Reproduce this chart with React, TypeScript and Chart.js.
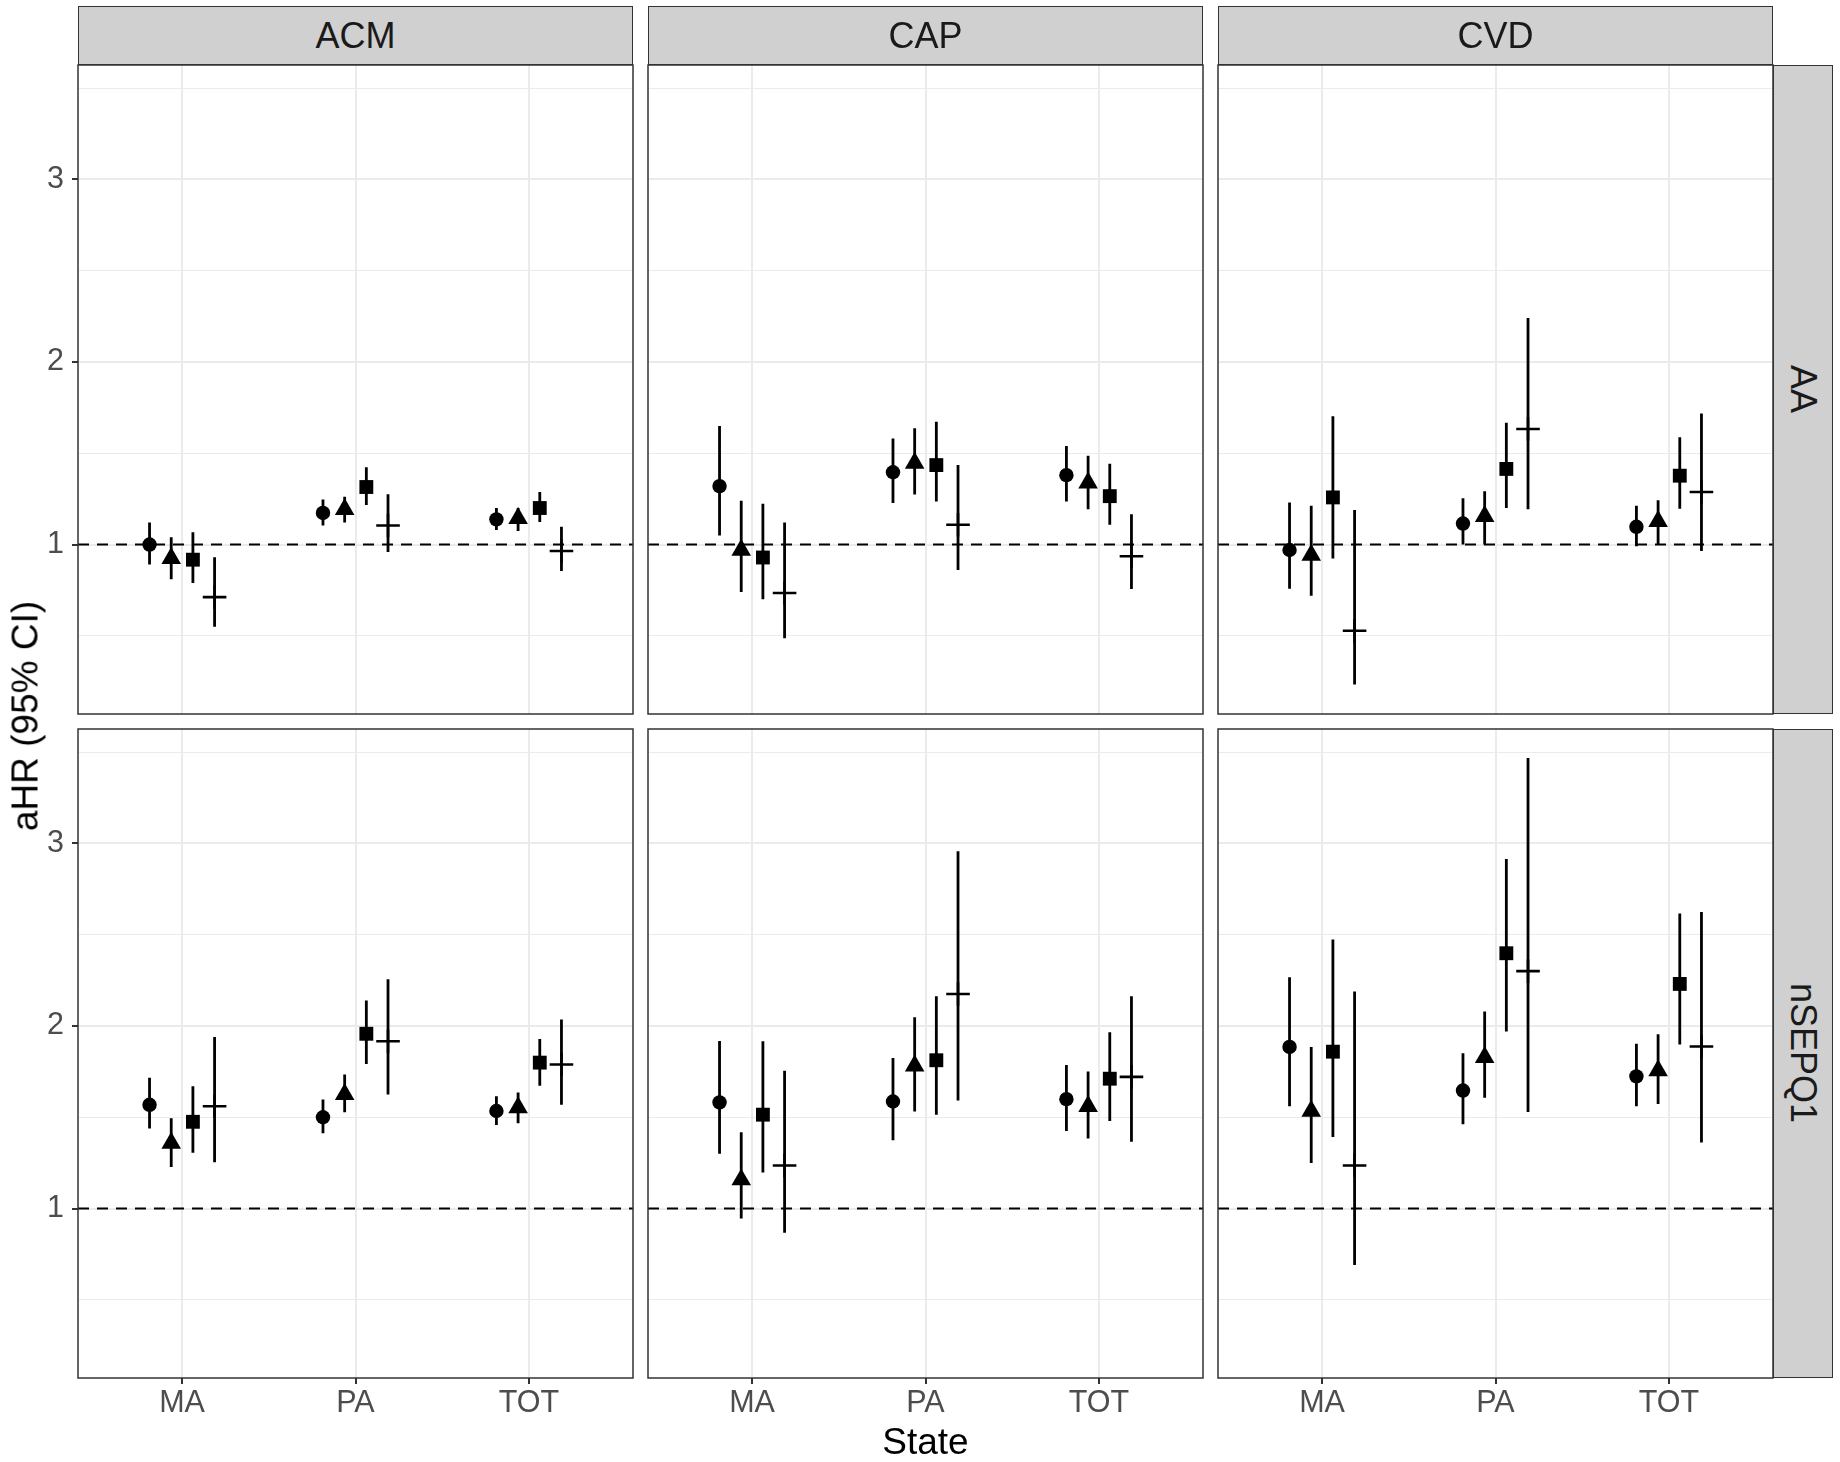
import React, { useEffect, useRef } from 'react';
import { Chart, registerables } from 'chart.js';

Chart.register(...registerables);

// ---------------- data ----------------
const states = ['MA', 'PA', 'TOT'];
const outcomes = ['ACM', 'CAP', 'CVD'];
const exposures = ['AA', 'nSEPQ1'];
const seriesNames = ['Model 1', 'Model 2', 'Model 3', 'Model 4'];
const yMajorTicks = [1, 2, 3];
const yMinorTicks = [0.5, 1.5, 2.5, 3.5];
const referenceHR = 1;
const xAxisTitle = 'State';
const yAxisTitle = 'aHR (95% CI)';

// rows: MA, PA, TOT ; columns: series 1..4 (circle, triangle, square, plus)
const AA_ACM_est = [[1.0, 0.924, 0.917, 0.712], [1.173, 1.193, 1.315, 1.104], [1.138, 1.143, 1.2, 0.965]];
const AA_ACM_lo = [[0.89, 0.81, 0.79, 0.55], [1.104, 1.12, 1.216, 0.959], [1.08, 1.074, 1.124, 0.855]];
const AA_ACM_hi = [[1.12, 1.04, 1.067, 0.93], [1.246, 1.262, 1.423, 1.276], [1.2, 1.2, 1.288, 1.097]];

const AA_CAP_est = [[1.32, 0.97, 0.929, 0.735], [1.396, 1.446, 1.435, 1.108], [1.38, 1.338, 1.265, 0.936]];
const AA_CAP_lo = [[1.05, 0.74, 0.7, 0.487], [1.228, 1.274, 1.235, 0.86], [1.235, 1.193, 1.108, 0.756]];
const AA_CAP_hi = [[1.649, 1.24, 1.223, 1.12], [1.58, 1.637, 1.672, 1.435], [1.54, 1.486, 1.442, 1.166]];

const AA_CVD_est = [[0.97, 0.942, 1.258, 0.528], [1.115, 1.154, 1.414, 1.633], [1.097, 1.127, 1.377, 1.288]];
const AA_CVD_lo = [[0.758, 0.72, 0.924, 0.234], [1.0, 1.0, 1.2, 1.193], [0.99, 1.0, 1.196, 0.965]];
const AA_CVD_hi = [[1.23, 1.212, 1.702, 1.189], [1.253, 1.292, 1.667, 2.24], [1.212, 1.242, 1.587, 1.718]];

const nSEPQ1_ACM_est = [[1.568, 1.358, 1.475, 1.56], [1.5, 1.625, 1.957, 1.916], [1.534, 1.553, 1.799, 1.789]];
const nSEPQ1_ACM_lo = [[1.438, 1.228, 1.306, 1.254], [1.412, 1.527, 1.791, 1.625], [1.457, 1.467, 1.672, 1.568]];
const nSEPQ1_ACM_hi = [[1.716, 1.495, 1.669, 1.94], [1.597, 1.734, 2.139, 2.256], [1.615, 1.636, 1.929, 2.035]];

const nSEPQ1_CAP_est = [[1.581, 1.158, 1.514, 1.236], [1.586, 1.781, 1.812, 2.175], [1.599, 1.56, 1.711, 1.721]];
const nSEPQ1_CAP_lo = [[1.3, 0.946, 1.197, 0.868], [1.374, 1.532, 1.514, 1.591], [1.425, 1.384, 1.48, 1.366]];
const nSEPQ1_CAP_hi = [[1.918, 1.418, 1.916, 1.755], [1.825, 2.048, 2.162, 2.956], [1.786, 1.75, 1.965, 2.162]];

const nSEPQ1_CVD_est = [[1.885, 1.534, 1.859, 1.236], [1.646, 1.828, 2.398, 2.3], [1.724, 1.755, 2.23, 1.887]];
const nSEPQ1_CVD_lo = [[1.56, 1.249, 1.392, 0.691], [1.462, 1.607, 1.97, 1.529], [1.56, 1.573, 1.898, 1.361]];
const nSEPQ1_CVD_hi = [[2.266, 1.885, 2.473, 2.188], [1.851, 2.079, 2.914, 3.467], [1.903, 1.955, 2.616, 2.624]];

const panelTable: Record<string, Record<string, number[][][]>> = {
  AA: {
    ACM: [AA_ACM_est, AA_ACM_lo, AA_ACM_hi],
    CAP: [AA_CAP_est, AA_CAP_lo, AA_CAP_hi],
    CVD: [AA_CVD_est, AA_CVD_lo, AA_CVD_hi],
  },
  nSEPQ1: {
    ACM: [nSEPQ1_ACM_est, nSEPQ1_ACM_lo, nSEPQ1_ACM_hi],
    CAP: [nSEPQ1_CAP_est, nSEPQ1_CAP_lo, nSEPQ1_CAP_hi],
    CVD: [nSEPQ1_CVD_est, nSEPQ1_CVD_lo, nSEPQ1_CVD_hi],
  },
};

// ---------------- layout & style ----------------
const FONT = '"Liberation Sans", Arial, Helvetica, sans-serif';
const Y_MIN = 0.072;
const Y_MAX = 3.626;
const X_MIN = 0.4;
const X_MAX = 3.6;
const DODGE = [-0.1875, -0.0625, 0.0625, 0.1875];
const SERIES_STYLE = [
  { shape: 'circle', radius: 7.2, border: 0 },
  { shape: 'triangle', radius: 11.3, border: 0 },
  { shape: 'rect', radius: 9.8, border: 0 },
  { shape: 'cross', radius: 11.8, border: 2.6 },
];
const PANEL_LEFTS = [78, 648, 1218];
const PANEL_W = 555;
const ROW_TOPS = [65, 729];
const PANEL_H = 649;
const STRIP_TOP = 6;
const STRIP_H = 59;
const RSTRIP_LEFT = 1773;
const RSTRIP_W = 60;
const X_AXIS_H = 60;
const M = 3;
const GRID = '#EBEBEB';
const DARK = '#333333';
const TICK_FONT = 30.5;

const borderPlugin = {
  id: 'panelBorder',
  afterDraw(chart: any) {
    const { ctx, chartArea: a } = chart;
    ctx.save();
    ctx.strokeStyle = DARK;
    ctx.lineWidth = 1.5;
    ctx.strokeRect(a.left, a.top, a.right - a.left, a.bottom - a.top);
    ctx.restore();
  },
};

function Panel({ exposure, outcome, row, col }: any) {
  const ref = useRef<HTMLCanvasElement>(null);
  const showX = row === exposures.length - 1;
  const showY = col === 0;
  const pl = PANEL_LEFTS[col];
  const pt = ROW_TOPS[row];
  const cLeft = showY ? 0 : pl - M;
  const cTop = pt - M;
  const cRight = pl + PANEL_W + M;
  const cBottom = showX ? pt + PANEL_H + X_AXIS_H : pt + PANEL_H + M;
  const w = cRight - cLeft;
  const h = cBottom - cTop;

  useEffect(() => {
    const [est, lo, hi] = panelTable[exposure][outcome];
    const datasets: any[] = [];
    SERIES_STYLE.forEach((st, s) => {
      datasets.push({
        type: 'scatter',
        label: seriesNames[s],
        data: states.map((_, i) => ({ x: i + 1 + DODGE[s], y: est[i][s] })),
        pointStyle: st.shape,
        pointRadius: st.radius,
        pointHoverRadius: st.radius,
        pointBackgroundColor: '#000',
        pointBorderColor: '#000',
        pointBorderWidth: st.border,
        showLine: false,
        order: 0,
      });
    });
    SERIES_STYLE.forEach((_, s) => {
      const data: any[] = [];
      states.forEach((__, i) => {
        const x = i + 1 + DODGE[s];
        data.push({ x, y: lo[i][s] }, { x, y: hi[i][s] }, { x, y: null });
      });
      datasets.push({
        type: 'line',
        label: seriesNames[s] + ' CI',
        data,
        borderColor: '#000',
        borderWidth: 2.8,
        pointRadius: 0,
        pointHoverRadius: 0,
        spanGaps: false,
        fill: false,
        tension: 0,
        order: 1,
      });
    });
    datasets.push({
      type: 'line',
      label: 'reference',
      data: [
        { x: X_MIN, y: referenceHR },
        { x: X_MAX, y: referenceHR },
      ],
      borderColor: '#000',
      borderWidth: 2,
      borderDash: [11, 8],
      pointRadius: 0,
      pointHoverRadius: 0,
      fill: false,
      order: 2,
    });

    const yTickVals = [...yMinorTicks, ...yMajorTicks].sort((a, b) => a - b);
    const isMajor = (v: number) => yMajorTicks.includes(v);

    const chart = new Chart(ref.current as HTMLCanvasElement, {
      type: 'scatter',
      data: { datasets },
      options: {
        animation: false,
        responsive: false,
        maintainAspectRatio: false,
        devicePixelRatio: 1,
        events: [],
        layout: {
          autoPadding: false,
          padding: { left: showY ? 0 : M, top: M, right: M, bottom: showX ? 0 : M },
        },
        plugins: { legend: { display: false }, tooltip: { enabled: false } },
        scales: {
          x: {
            type: 'linear',
            min: X_MIN,
            max: X_MAX,
            afterBuildTicks: (axis: any) => {
              axis.ticks = states.map((_, i) => ({ value: i + 1 }));
            },
            afterFit: (scale: any) => {
              scale.height = showX ? X_AXIS_H : 0;
              scale.paddingLeft = 0;
              scale.paddingRight = 0;
            },
            ticks: {
              display: showX,
              autoSkip: false,
              maxRotation: 0,
              padding: 1,
              color: '#4D4D4D',
              font: { family: FONT, size: TICK_FONT },
              callback: (_v: any, i: number) => states[i],
            },
            grid: {
              color: GRID,
              lineWidth: 2,
              drawTicks: showX,
              tickLength: 6,
              tickColor: DARK,
              tickWidth: 2,
            },
            border: { display: false },
          },
          y: {
            type: 'linear',
            min: Y_MIN,
            max: Y_MAX,
            afterBuildTicks: (axis: any) => {
              axis.ticks = yTickVals.map((v) => ({ value: v }));
            },
            afterFit: (scale: any) => {
              scale.width = showY ? pl : 0;
              scale.paddingTop = 0;
              scale.paddingBottom = 0;
            },
            ticks: {
              display: showY,
              autoSkip: false,
              padding: 8,
              color: '#4D4D4D',
              font: { family: FONT, size: TICK_FONT },
              callback: (v: any) => (isMajor(v) ? String(v) : ''),
            },
            grid: {
              color: GRID,
              lineWidth: (ctx: any) => (ctx.tick && isMajor(ctx.tick.value) ? 2 : 1),
              drawTicks: showY,
              tickLength: 6,
              tickColor: (ctx: any) => (ctx.tick && isMajor(ctx.tick.value) ? DARK : 'rgba(0,0,0,0)'),
              tickWidth: 2,
            },
            border: { display: false },
          },
        },
      } as any,
      plugins: [borderPlugin],
    } as any);
    return () => chart.destroy();
  }, []);

  return (
    <canvas
      ref={ref}
      width={w}
      height={h}
      style={{ position: 'absolute', left: cLeft, top: cTop, width: w, height: h }}
    />
  );
}

export default function App() {
  return (
    <div
      style={{
        position: 'absolute',
        left: 0,
        top: 0,
        width: 1840,
        height: 1462,
        background: '#ffffff',
        overflow: 'hidden',
        fontFamily: FONT,
      }}
    >
      {exposures.map((exp, r) =>
        outcomes.map((out, c) => <Panel key={exp + out} exposure={exp} outcome={out} row={r} col={c} />)
      )}
      {outcomes.map((out, c) => (
        <div
          key={'strip' + out}
          style={{
            position: 'absolute',
            left: PANEL_LEFTS[c],
            top: STRIP_TOP,
            width: PANEL_W,
            height: STRIP_H,
            background: '#D0D0D0',
            border: '1px solid ' + DARK,
            boxSizing: 'border-box',
            display: 'flex',
            alignItems: 'center',
            justifyContent: 'center',
            fontSize: 36,
            color: '#1A1A1A',
            lineHeight: 1,
          }}
        >
          {out}
        </div>
      ))}
      {exposures.map((exp, r) => (
        <div
          key={'rstrip' + exp}
          style={{
            position: 'absolute',
            left: RSTRIP_LEFT,
            top: ROW_TOPS[r],
            width: RSTRIP_W,
            height: PANEL_H,
            background: '#D0D0D0',
            border: '1px solid ' + DARK,
            boxSizing: 'border-box',
            display: 'flex',
            alignItems: 'center',
            justifyContent: 'center',
            fontSize: 36,
            color: '#1A1A1A',
            lineHeight: 1,
          }}
        >
          <span style={{ writingMode: 'vertical-rl', whiteSpace: 'nowrap' }}>{exp}</span>
        </div>
      ))}
      <div
        style={{
          position: 'absolute',
          left: (PANEL_LEFTS[0] + RSTRIP_LEFT) / 2,
          top: 1441,
          transform: 'translate(-50%, -50%)',
          fontSize: 37,
          lineHeight: 1,
          whiteSpace: 'nowrap',
          color: '#000',
        }}
      >
        {xAxisTitle}
      </div>
      <div
        style={{
          position: 'absolute',
          left: 25,
          top: 716,
          transform: 'translate(-50%, -50%) rotate(-90deg)',
          fontSize: 37,
          lineHeight: 1,
          whiteSpace: 'nowrap',
          color: '#000',
        }}
      >
        {yAxisTitle}
      </div>
    </div>
  );
}
